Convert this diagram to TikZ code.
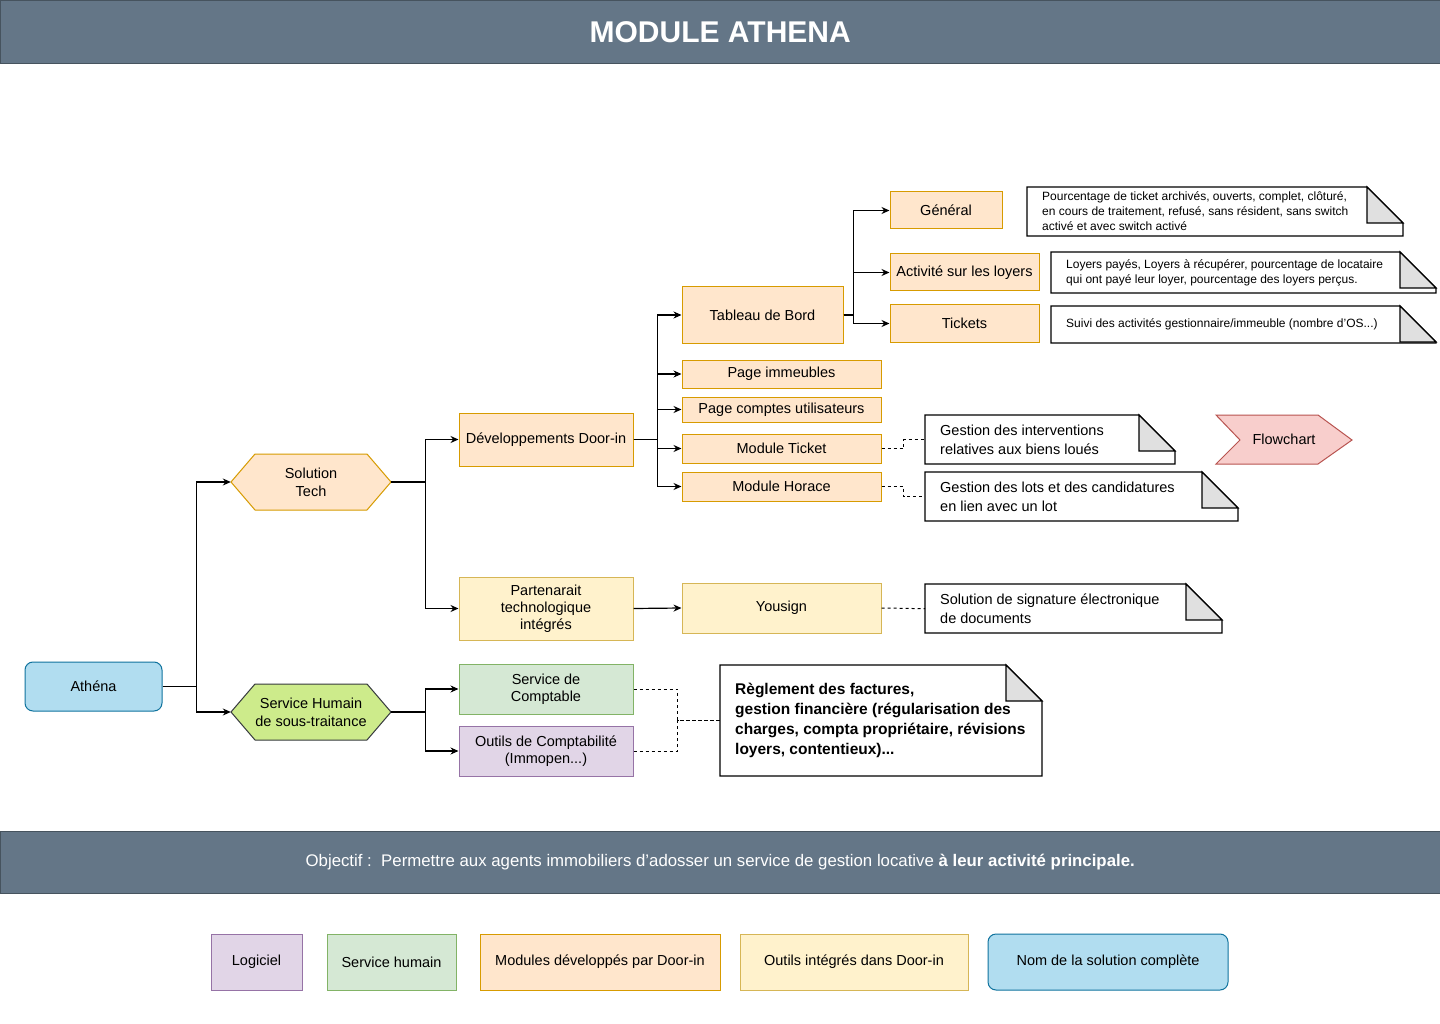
\documentclass[tikz,border=0pt]{standalone}
\usepackage{fontspec}
\setmainfont{Liberation Sans}
\usetikzlibrary{arrows.meta}
\definecolor{slate}{HTML}{647687}
\definecolor{oF}{HTML}{FFE6CC}\definecolor{oS}{HTML}{D79B00}
\definecolor{yF}{HTML}{FFF2CC}\definecolor{yS}{HTML}{D6B656}
\definecolor{gF}{HTML}{D5E8D4}\definecolor{gS}{HTML}{82B366}
\definecolor{pF}{HTML}{E1D5E7}\definecolor{pS}{HTML}{9673A6}
\definecolor{bF}{HTML}{B1DDF0}\definecolor{bS}{HTML}{10739E}
\definecolor{lF}{HTML}{CDEB8B}\definecolor{lS}{HTML}{36393D}
\definecolor{rF}{HTML}{F8CECC}\definecolor{rS}{HTML}{B85450}
\newcommand\fnote[9]{% name x1 y1 x2 y2 fold fontsize baselineskip text
  \node[anchor=north west,inner sep=0,minimum width=#4-#2,minimum height=#5-#3] (#1) at (#2,#3) {};
  \draw[fill=white,line width=1.2] (#2,#3) -- (#4-#6,#3) -- (#4,#3+#6) -- (#4,#5) -- (#2,#5) -- cycle;
  \draw[fill=black!12,line width=1.2] (#4-#6,#3) -- (#4-#6+0.01,#3+#6) -- (#4,#3+#6) -- cycle;
  \node[anchor=west,align=left,font=\fontsize{#7}{#8}\selectfont,inner sep=0] at (#2+15,#3/2+#5/2) {#9};
}
\begin{document}
\begin{tikzpicture}[x=1pt,y=-1pt,
  bx/.style={draw,line width=1,font=\fontsize{14.5}{17}\selectfont,align=center,inner sep=1},
  ob/.style={bx,fill=oF,draw=oS},
  yb/.style={bx,fill=yF,draw=yS},
  gb/.style={bx,fill=gF,draw=gS},
  pb/.style={bx,fill=pF,draw=pS},
  arr/.style={-{Stealth[length=8,width=7]},line width=1.2},
  dsh/.style={dashed,line width=1}]
\useasboundingbox (0,0) rectangle (1440,1024);
\fill[white] (0,0) rectangle (1440,1024);
\node[fill=slate,draw=slate!70!black,minimum width=1440,minimum height=63,anchor=north west,inner sep=0,text=white,font=\fontsize{30}{34}\selectfont\bfseries] (title) at (0,0) {MODULE ATHENA};
\node[fill=slate,draw=slate!70!black,minimum width=1440,minimum height=62,anchor=north west,inner sep=0,text=white,font=\fontsize{16.8}{19}\selectfont] (obj) at (0,831) {Objectif :\ \ Permettre aux agents immobiliers d'adosser un service de gestion locative \textbf{à leur activité principale.}};

\node[bx,fill=bF,draw=bS,rounded corners=8,minimum width=137,minimum height=49] (ath) at (93.5,686.5) {Athéna};
% hexagons
\node[minimum width=160,minimum height=56,inner sep=0] (st) at (311,482) {};
\filldraw[fill=oF,draw=oS,line width=1] (231,482)--(255,454)--(367,454)--(391,482)--(367,510)--(255,510)--cycle;
\node[font=\fontsize{14.5}{18}\selectfont,align=center] at (st) {Solution\\Tech};
\node[minimum width=160,minimum height=56,inner sep=0] (sh) at (311,712) {};
\filldraw[fill=lF,draw=lS,line width=1] (231,712)--(255,684)--(367,684)--(391,712)--(367,740)--(255,740)--cycle;
\node[font=\fontsize{14.5}{18}\selectfont,align=center] at (sh) {Service Humain\\de sous-traitance};

\node[ob,minimum width=174,minimum height=53] (dev) at (546,439.5) {Développements Door-in};
\node[yb,minimum width=174,minimum height=63] (part) at (546,608.5) {Partenarait\\technologique\\intégrés};
\node[gb,minimum width=174,minimum height=50] (sc) at (546,689) {Service de\\Comptable};
\node[pb,minimum width=174,minimum height=50] (oc) at (546,751) {Outils de Comptabilité\\(Immopen...)};

\node[ob,minimum width=161,minimum height=56] (tb) at (762.5,315) {Tableau de Bord};
\node[ob,minimum width=199,minimum height=28] (pi) at (781.5,374) {Page immeubles};
\node[ob,minimum width=199,minimum height=25] (pc) at (781.5,409.5) {Page comptes utilisateurs};
\node[ob,minimum width=199,minimum height=29] (mt) at (781.5,448.5) {Module Ticket};
\node[ob,minimum width=199,minimum height=29] (mh) at (781.5,486.5) {Module Horace};
\node[yb,minimum width=199,minimum height=50] (ys) at (781.5,608) {Yousign};

\node[ob,minimum width=112,minimum height=37] (gen) at (946,210.5) {Général};
\node[ob,minimum width=149,minimum height=37] (act) at (964.5,272.5) {Activité sur les loyers};
\node[ob,minimum width=149,minimum height=37] (tk) at (964.5,323.5) {Tickets};

\fnote{n1}{1027}{187}{1403}{236}{36}{12}{15}{Pourcentage de ticket archivés, ouverts, complet, clôturé,\\en cours de traitement, refusé, sans résident, sans switch\\activé et avec switch activé}
\fnote{n2}{1051}{252}{1436}{293}{36}{12}{15}{Loyers payés, Loyers à récupérer, pourcentage de locataire\\qui ont payé leur loyer, pourcentage des loyers perçus.}
\fnote{n3}{1051}{306}{1436}{343}{36}{12}{15}{Suivi des activités gestionnaire/immeuble (nombre d'OS...)}
\fnote{n4}{925}{415}{1175}{464}{36}{14.5}{19}{Gestion des interventions\\relatives aux biens loués}
\fnote{n5}{925}{472}{1238}{521}{36}{14.5}{19}{Gestion des lots et des candidatures\\en lien avec un lot}
\fnote{n6}{925}{584}{1222}{633}{36}{14.5}{19}{Solution de signature électronique\\de documents}
\fnote{n7}{720}{665}{1042}{776}{36}{15.5}{20}{\bfseries Règlement des factures,\\\bfseries gestion financière (régularisation des\\\bfseries charges, compta propriétaire, révisions\\\bfseries loyers, contentieux)...}

\node[minimum width=136,minimum height=49,inner sep=0] (fc) at (1284,440) {};
\filldraw[fill=rF,draw=rS,line width=1] (1216,415)--(1318,415)--(1352,440)--(1318,464)--(1216,464)--(1240,440)--cycle;
\node[font=\fontsize{14.5}{17}\selectfont] at (1284,439) {Flowchart};

% connectors
\draw[arr] (ath.east) -- ++(34,0) |- (st.west);
\draw[arr] (ath.east) -- ++(34,0) |- (sh.west);
\draw[arr] (st.east) -- ++(34,0) |- (dev.west);
\draw[arr] (st.east) -- ++(34,0) |- (part.west);
\draw[arr] (sh.east) -- ++(34,0) |- (sc.west);
\draw[arr] (sh.east) -- ++(34,0) |- (oc.west);
\foreach \t in {tb,pi,pc,mt,mh} \draw[arr] (dev.east) -- ++(24,0) |- (\t.west);
\foreach \t in {gen,act,tk} \draw[arr] (tb.east) -- ++(10,0) |- (\t.west);
\draw[arr] (part.east) -- (ys.west);
\draw[dsh] (mt.east) -- ++(22,0) |- (n4.west);
\draw[dsh] (mh.east) -- ++(22,0) |- (n5.west);
\draw[dsh] (ys.east) -- (n6.west);
\draw[dsh] (sc.east) -- ++(44,0) |- (n7.west);
\draw[dsh] (oc.east) -- ++(44,0) |- (n7.west);

% legend
\node[pb,minimum width=91,minimum height=56] (l1) at (256.5,962) {Logiciel};
\node[gb,minimum width=129,minimum height=56] (l2) at (391.5,962) {Service humain};
\node[ob,minimum width=240,minimum height=56] (l3) at (600,962) {Modules développés par Door-in};
\node[yb,minimum width=228,minimum height=56] (l4) at (854,962) {Outils intégrés dans Door-in};
\node[bx,fill=bF,draw=bS,rounded corners=8,minimum width=240,minimum height=56] (l5) at (1108,962) {Nom de la solution complète};
\end{tikzpicture}
\end{document}
